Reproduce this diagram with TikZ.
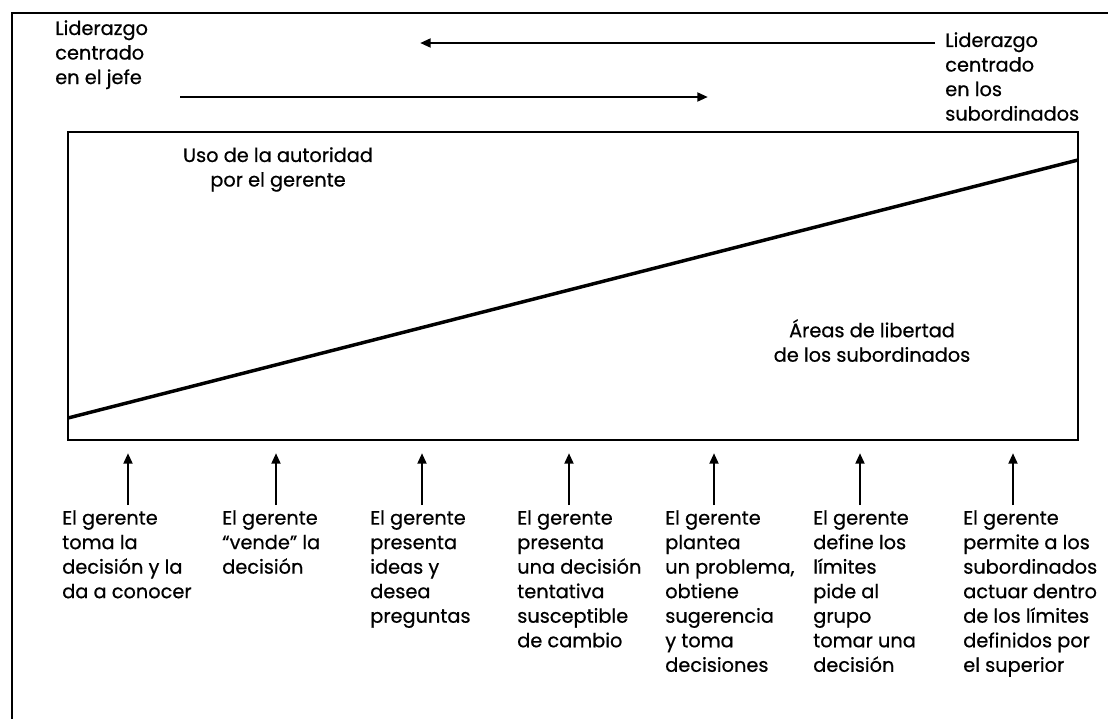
\documentclass[tikz,border=0pt]{standalone}
\usepackage{fontspec}
\setmainfont{Poppins}[FakeBold=0.6,AutoFakeBold=0.6]
\usetikzlibrary{arrows.meta}
\tikzset{
  frame/.style={line width=2.2pt},
  panel/.style={line width=2.2pt},
  split/.style={line width=2.6pt},
  flow/.style={line width=2pt,-{Triangle[length=8pt,width=6.5pt]}},
  lbl/.style={inner sep=0pt,align=left,anchor=north west,font=\fontsize{14.5}{18.4}\selectfont\bfseries},
  ctr/.style={inner sep=0pt,align=center,anchor=north,font=\fontsize{14.5}{18.4}\selectfont\bfseries},
}
\begin{document}
\begin{tikzpicture}[x=0.75pt,y=-0.75pt]
\useasboundingbox (0,0) rectangle (1108,719);

% open outer frame: top edge and left edge only
\draw[frame] (1108,13) -- (12,13) -- (12,719);

% leadership labels at the top
\node[lbl] (jefe) at (55,20) {Liderazgo\\centrado\\en el jefe};
\node[lbl] (subs) at (945,32) {Liderazgo\\centrado\\en los\\subordinados};

% direction arrows
\coordinate (la0) at (935,43);
\coordinate (la1) at (420,43);
\coordinate (ra0) at (180,97);
\coordinate (ra1) at (708,97);
\draw[flow] (la0) -- (la1);
\draw[flow] (ra0) -- (ra1);

% authority / freedom panel
\coordinate (bl) at (68,440);
\coordinate (tr) at (1078,132);
\draw[panel] (bl) rectangle (tr);
\coordinate (d0) at (68,418);
\coordinate (d1) at (1078,160);
\draw[split] (d0) -- (d1);

\node[ctr] (auth) at (278,147) {Uso de la autoridad\\por el gerente};
\node[ctr] (free) at (872,319) {Áreas de libertad\\de los subordinados};

% behaviour columns
\node[lbl] (c1) at (62,510)  {El gerente\\toma la\\decisión y la\\da a conocer};
\node[lbl] (c2) at (222,510) {El gerente\\“vende” la\\decisión};
\node[lbl] (c3) at (370,510) {El gerente\\presenta\\ideas y\\desea\\preguntas};
\node[lbl] (c4) at (517,510) {El gerente\\presenta\\una decisión\\tentativa\\susceptible\\de cambio};
\node[lbl] (c5) at (665,510) {El gerente\\plantea\\un problema,\\obtiene\\sugerencia\\y toma\\decisiones};
\node[lbl] (c6) at (813,510) {El gerente\\define los\\límites\\pide al\\grupo\\tomar una\\decisión};
\node[lbl] (c7) at (963,510) {El gerente\\permite a los\\subordinados\\actuar dentro\\de los límites\\definidos por\\el superior};

\foreach \i/\x in {1/128,2/276,3/422,4/569,5/714,6/860,7/1013}{
  \coordinate (u\i) at (\x,505);
  \coordinate (v\i) at (\x,453);
  \draw[flow] (u\i) -- (v\i);
}
\end{tikzpicture}
\end{document}
